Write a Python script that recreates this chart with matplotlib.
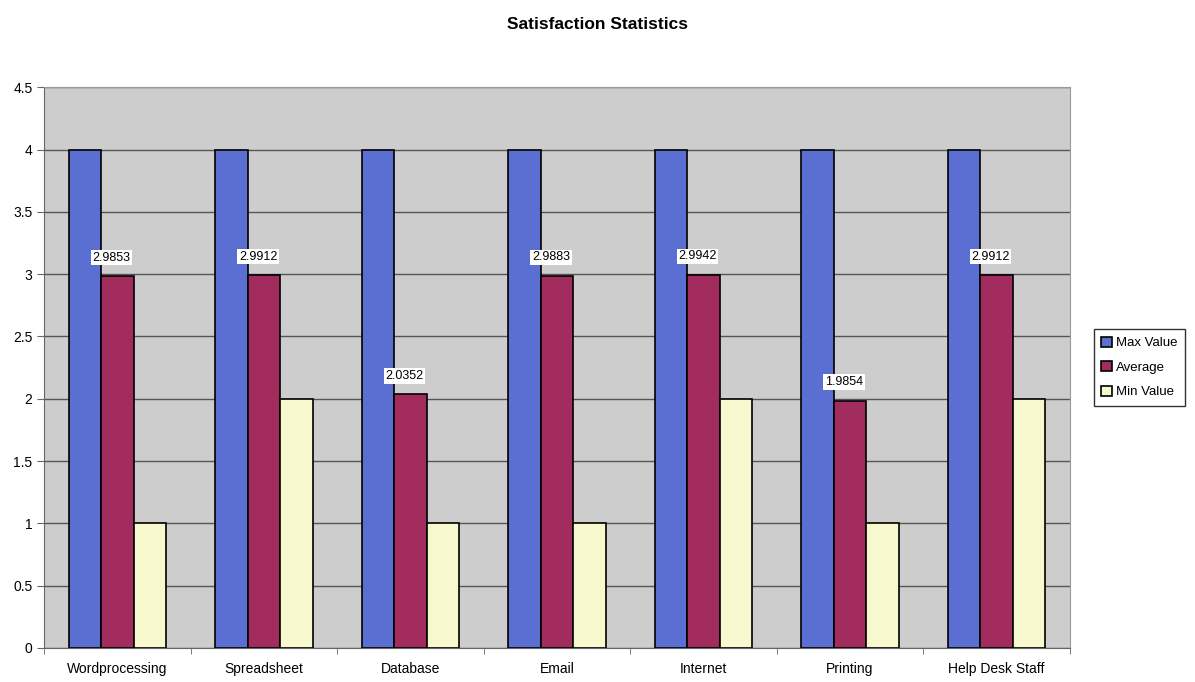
import numpy as np
import matplotlib
matplotlib.use("Agg")
from matplotlib import pyplot as plt

plt.rcParams['font.family'] = ['Liberation Sans', 'DejaVu Sans']

categories = ["Wordprocessing", "Spreadsheet", "Database", "Email",
              "Internet", "Printing", "Help Desk Staff"]
max_value = [4, 4, 4, 4, 4, 4, 4]
average = [2.9853, 2.9912, 2.0352, 2.9883, 2.9942, 1.9854, 2.9912]
min_value = [1, 2, 1, 1, 2, 1, 2]

series = [("Max Value", max_value, "#5b6fd2"),
          ("Average", average, "#a32c5e"),
          ("Min Value", min_value, "#f8f8cf")]

fig = plt.figure(figsize=(11.95, 6.82), dpi=100)
ax = fig.add_axes([0.037, 0.05, 0.858, 0.822])
ax.set_facecolor("#cdcdcd")

x = np.arange(len(categories))
w = 0.222
for i, (name, vals, col) in enumerate(series):
    bars = ax.bar(x + (i - 1) * w, vals, w, color=col, edgecolor="black",
                  linewidth=1.2, label=name, zorder=3)
    if name == "Average":
        for b, v in zip(bars, vals):
            ax.text(b.get_x() + b.get_width() / 2 - 0.04, v + 0.1, f"{v:.4f}",
                    ha="center", va="bottom", fontsize=9, zorder=4,
                    bbox=dict(facecolor="white", edgecolor="none", pad=1.2))

ax.set_xlim(-0.5, len(categories) - 0.5)
ax.set_ylim(0, 4.5)
ax.set_yticks(np.arange(0, 4.51, 0.5))
ax.set_yticklabels(["0", "0.5", "1", "1.5", "2", "2.5", "3", "3.5", "4", "4.5"])
ax.yaxis.grid(True, color="#555555", linewidth=1.0, zorder=0)
ax.set_xticks(x)
ax.set_xticklabels(categories)
ax.set_xticks(np.arange(-0.5, len(categories), 1), minor=True)
ax.tick_params(axis="x", which="major", length=0, pad=10, labelsize=10)
ax.tick_params(axis="x", which="minor", length=4, color="#666666")
ax.tick_params(axis="y", length=5, color="#666666", labelsize=10)
for s in ["top", "right"]:
    ax.spines[s].set_color("#999999")
for s in ["left", "bottom"]:
    ax.spines[s].set_color("#666666")

fig.suptitle("Satisfaction Statistics", y=0.975, fontsize=12.5, fontweight="bold")

leg = ax.legend(loc="center left", bbox_to_anchor=(1.017, 0.5), fontsize=9.5,
                frameon=True, fancybox=False, edgecolor="black",
                handlelength=0.8, handleheight=0.8, handletextpad=0.3,
                borderpad=0.6, labelspacing=0.9)
leg.get_frame().set_linewidth(1.0)

fig.savefig("out.png", dpi=100)
